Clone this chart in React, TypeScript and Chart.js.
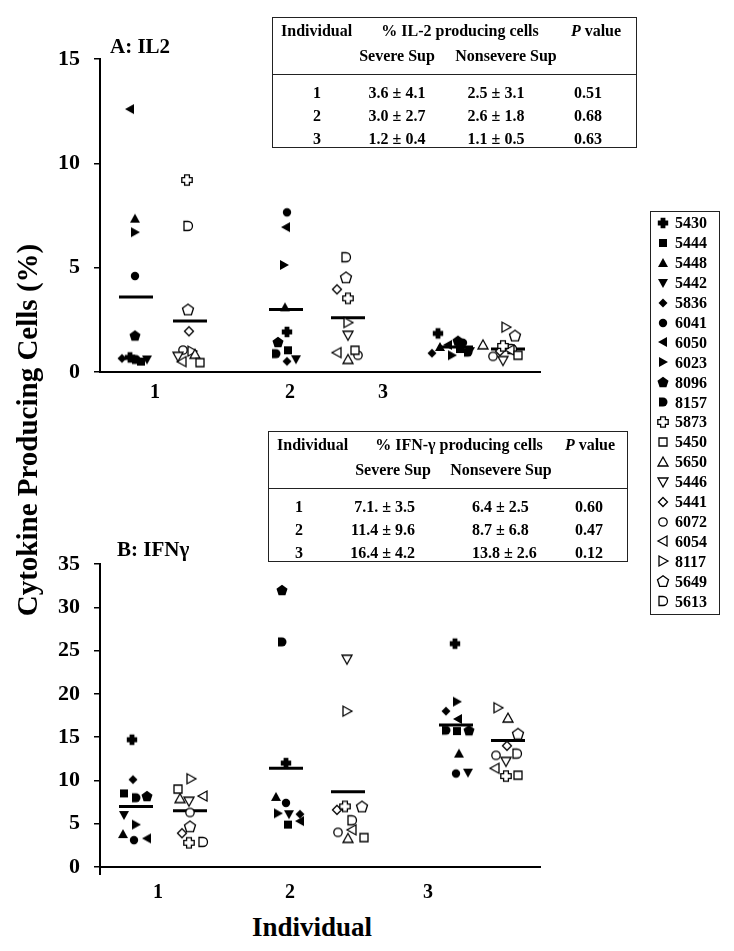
import React, { useEffect, useRef, useMemo } from 'react';
import { Chart, registerables } from 'chart.js';
Chart.register(...registerables);

const FONT = '"Liberation Serif", "Times New Roman", Times, serif';

// ---------------- data ----------------
const INDIVIDUALS = ['5430', '5444', '5448', '5442', '5836', '6041', '6050', '6023', '8096', '8157',
  '5873', '5450', '5650', '5446', '5441', '6072', '6054', '8117', '5649', '5613'];
const SHAPES = ['cross', 'square', 'triUp', 'triDown', 'diamond', 'circle', 'triLeft', 'triRight', 'pentagon', 'D',
  'cross', 'square', 'triUp', 'triDown', 'diamond', 'circle', 'triLeft', 'triRight', 'pentagon', 'D'];
const SEVERE = [true, true, true, true, true, true, true, true, true, true,
  false, false, false, false, false, false, false, false, false, false];
const GROUP_LABELS = ['1', '2', '3'];

// IL-2 producing cells (%), one value per individual, in INDIVIDUALS order
const IL2_IND1 = [0.7, 0.5, 7.35, 0.6, 0.65, 4.6, 12.6, 6.7, 1.75, 0.6,
  9.2, 0.45, 0.85, 0.75, 1.95, 1.05, 0.5, 1.0, 3.0, 7.0];
const IL2_IND2 = [1.92, 1.04, 3.1, 0.61, 0.51, 7.65, 6.94, 5.13, 1.44, 0.88,
  3.53, 1.04, 0.6, 1.76, 3.96, 0.8, 0.93, 2.37, 4.54, 5.5];
const IL2_IND3 = [1.85, 1.1, 1.2, 1.0, 0.9, 1.4, 1.3, 0.8, 1.5, 0.95,
  1.25, 0.8, 1.3, 0.55, 1.0, 0.75, 1.05, 2.15, 1.75, 1.1];
const IL2_MEAN_SEVERE = [3.6, 3.0, 1.2];
const IL2_MEAN_NONSEVERE = [2.45, 2.6, 1.1];

// IFN-gamma producing cells (%)
const IFN_IND1 = [14.7, 8.5, 3.8, 6.0, 10.1, 3.1, 3.3, 4.9, 8.2, 8.0,
  2.8, 9.0, 7.9, 7.6, 3.9, 6.3, 8.2, 10.2, 4.7, 2.9];
const IFN_IND2 = [12.0, 4.9, 8.1, 6.1, 6.1, 7.4, 5.3, 6.2, 32.0, 26.0,
  7.0, 3.4, 3.3, 24.0, 6.6, 4.0, 4.3, 18.0, 7.0, 5.4];
const IFN_IND3 = [25.8, 15.7, 13.1, 10.9, 18.0, 10.8, 17.1, 19.1, 15.8, 15.8,
  10.5, 10.6, 17.2, 12.2, 14.0, 12.9, 11.4, 18.4, 15.4, 13.1];
const IFN_MEAN_SEVERE = [7.0, 11.4, 16.4];
const IFN_MEAN_NONSEVERE = [6.5, 8.7, 14.6];

const IL2_Y_MAX = 15;
const IL2_Y_STEP = 5;
const IFN_Y_MAX = 35;
const IFN_Y_STEP = 5;

// summary tables
const IL2_TABLE_SEVERE = ['3.6 ± 4.1', '3.0 ± 2.7', '1.2 ± 0.4'];
const IL2_TABLE_NONSEVERE = ['2.5 ± 3.1', '2.6 ± 1.8', '1.1 ± 0.5'];
const IL2_TABLE_P = ['0.51', '0.68', '0.63'];
const IFN_TABLE_SEVERE = ['7.1. ± 3.5', '11.4 ± 9.6', '16.4 ± 4.2'];
const IFN_TABLE_NONSEVERE = ['6.4 ± 2.5', '8.7 ± 6.8', '13.8 ± 2.6'];
const IFN_TABLE_P = ['0.60', '0.47', '0.12'];

// ---------------- layout (pixels along the x axis) ----------------
const X_SPAN = 440;
const SEVERE_COL = [36, 186, 356];
const NONSEVERE_COL = [90, 248, 408];
const MEAN_HALF = 17;
const IL2_X_TICKS = [55, 190, 283];
const IFN_X_TICKS = [58, 190, 328];
const IL2_JITTER = [
  [-6, 5, -1, 11, -14, -1, -6, -1, -1, 0, -3, 10, 5, -12, -1, -7, -8, 2, -2, -2],
  [1, 2, -1, 10, 1, 1, 0, -2, -8, -10, 0, 7, 0, 0, -11, 10, -11, 0, -2, -2],
  [-18, 4, -16, 14, -24, 7, -8, -4, 2, 12, -5, 10, -25, -5, -8, -15, 2, -2, 7, 4],
];
const IFN_JITTER = [
  [-4, -12, -13, -12, -3, -2, 11, 0, 11, 0, -1, -12, -10, -1, -8, 0, 13, 1, 0, 13],
  [0, 2, -10, 3, 14, 0, 14, -8, -4, -4, -3, 16, 0, -1, -11, -10, 4, -1, 14, 4],
  [-1, 1, 3, 12, -10, 0, 2, 1, 13, -10, -2, 10, 0, -2, -1, -12, -13, -10, 10, 9],
];

// ---------------- markers ----------------
function drawShape(ctx: CanvasRenderingContext2D, shape: string, filled: boolean, cx: number, cy: number) {
  ctx.save();
  ctx.translate(cx, cy);
  ctx.beginPath();
  switch (shape) {
    case 'cross': {
      const a = 5.2, b = 2.4;
      ctx.moveTo(-b, -a); ctx.lineTo(b, -a); ctx.lineTo(b, -b); ctx.lineTo(a, -b); ctx.lineTo(a, b);
      ctx.lineTo(b, b); ctx.lineTo(b, a); ctx.lineTo(-b, a); ctx.lineTo(-b, b); ctx.lineTo(-a, b);
      ctx.lineTo(-a, -b); ctx.lineTo(-b, -b); ctx.closePath();
      break;
    }
    case 'square': ctx.rect(-4, -4, 8, 8); break;
    case 'triUp': ctx.moveTo(0, -5); ctx.lineTo(5, 4); ctx.lineTo(-5, 4); ctx.closePath(); break;
    case 'triDown': ctx.moveTo(0, 5); ctx.lineTo(5, -4); ctx.lineTo(-5, -4); ctx.closePath(); break;
    case 'triLeft': ctx.moveTo(-5, 0); ctx.lineTo(4, -5); ctx.lineTo(4, 5); ctx.closePath(); break;
    case 'triRight': ctx.moveTo(5, 0); ctx.lineTo(-4, -5); ctx.lineTo(-4, 5); ctx.closePath(); break;
    case 'diamond': ctx.moveTo(0, -4.5); ctx.lineTo(4.5, 0); ctx.lineTo(0, 4.5); ctx.lineTo(-4.5, 0); ctx.closePath(); break;
    case 'circle': ctx.arc(0, 0, 4.2, 0, Math.PI * 2); break;
    case 'pentagon':
      for (let i = 0; i < 5; i++) {
        const t = -Math.PI / 2 + (i * 2 * Math.PI) / 5;
        const x = 5.8 * Math.cos(t), y = 5.8 * Math.sin(t) + 0.6;
        if (i) ctx.lineTo(x, y); else ctx.moveTo(x, y);
      }
      ctx.closePath();
      break;
    case 'D':
      ctx.moveTo(-4, -4.5); ctx.lineTo(0, -4.5); ctx.arc(0, 0, 4.5, -Math.PI / 2, Math.PI / 2); ctx.lineTo(-4, 4.5); ctx.closePath();
      break;
  }
  if (filled) {
    ctx.fillStyle = '#000';
    ctx.fill();
  } else {
    ctx.fillStyle = '#fff';
    ctx.fill();
    ctx.lineWidth = 1.3;
    ctx.strokeStyle = '#000';
    ctx.stroke();
  }
  ctx.restore();
}

function makeMarker(shape: string, filled: boolean) {
  const c = document.createElement('canvas');
  c.width = 14;
  c.height = 14;
  const ctx = c.getContext('2d')!;
  drawShape(ctx, shape, filled, 7, 7);
  return c;
}

// ---------------- chart panel ----------------
type PanelProps = {
  markers: HTMLCanvasElement[];
  top: number; height: number; padTop: number; axisH: number;
  values: number[][]; jitter: number[][];
  meanSev: number[]; meanNon: number[];
  yMax: number; yStep: number; xTicks: number[]; labelPad: number; originTick: boolean;
};

function Panel(p: PanelProps) {
  const ref = useRef<HTMLCanvasElement>(null);
  useEffect(() => {
    const datasets: any[] = [];
    for (let g = 0; g < 3; g++) {
      [[SEVERE_COL[g], p.meanSev[g]], [NONSEVERE_COL[g], p.meanNon[g]]].forEach(([c, m]) => {
        datasets.push({
          type: 'line',
          data: [{ x: c - MEAN_HALF, y: m }, { x: c + MEAN_HALF, y: m }],
          borderColor: '#000', borderWidth: 3, pointRadius: 0, order: 2,
        });
      });
    }
    INDIVIDUALS.forEach((id, i) => {
      datasets.push({
        type: 'scatter',
        label: id,
        data: p.values.map((arr, g) => ({
          x: (SEVERE[i] ? SEVERE_COL[g] : NONSEVERE_COL[g]) + p.jitter[g][i],
          y: arr[i],
        })),
        pointStyle: p.markers[i],
        pointRadius: 5,
        order: 1,
      });
    });
    const tickVals = p.originTick ? [0, ...p.xTicks] : p.xTicks;
    const tickLabels = p.originTick ? ['', ...GROUP_LABELS] : GROUP_LABELS;
    const tl = p.originTick ? 8 : 0;
    const chart = new Chart(ref.current!, {
      type: 'scatter',
      data: { datasets },
      options: {
        animation: false,
        responsive: false,
        events: [],
        plugins: { legend: { display: false }, tooltip: { enabled: false } },
        layout: { padding: { top: p.padTop, left: 0, right: 20, bottom: 0 } },
        scales: {
          x: {
            type: 'linear', min: 0, max: X_SPAN,
            afterBuildTicks: (s: any) => { s.ticks = tickVals.map((v) => ({ value: v })); },
            afterFit: (s: any) => { s.height = p.axisH; },
            ticks: {
              callback: (_v: any, idx: number) => tickLabels[idx],
              font: { family: FONT, size: 20, weight: 'bold' }, color: '#000', padding: p.labelPad - tl,
              maxRotation: 0, autoSkip: false,
            },
            grid: {
              display: p.originTick, drawOnChartArea: false, drawTicks: p.originTick, tickLength: tl,
              color: (c: any) => (c.tick && c.tick.value === 0 ? '#000' : 'rgba(0,0,0,0)'), lineWidth: 2,
            },
            border: { display: true, color: '#000', width: 2 },
          },
          y: {
            min: 0, max: p.yMax,
            afterFit: (s: any) => { s.width = 100; },
            ticks: { stepSize: p.yStep, font: { family: FONT, size: 22, weight: 'bold' }, color: '#000', padding: 14 },
            grid: { display: true, drawOnChartArea: false, drawTicks: true, tickLength: 6, color: '#000', lineWidth: 1.5 },
            border: { display: true, color: '#000', width: 2 },
          },
        },
      } as any,
    });
    return () => chart.destroy();
  }, []);
  return <canvas ref={ref} width={560} height={p.height} style={{ position: 'absolute', left: 0, top: p.top, width: 560, height: p.height }} />;
}

// ---------------- text helpers ----------------
function Txt({ x, y, size = 16, align = 'left', children, italic = false }: any) {
  const w = 400;
  const left = align === 'center' ? x - w / 2 : align === 'right' ? x - w : x;
  return (
    <div style={{
      position: 'absolute', left, top: y - size * 0.6, width: w, textAlign: align,
      font: `${italic ? 'italic ' : ''}bold ${size}px ${FONT}`, lineHeight: `${size * 1.2}px`, whiteSpace: 'nowrap', color: '#000',
    }}>{children}</div>
  );
}

function StatTable({ left, top, width, title, sev, non, pv, cols }: any) {
  const rowY = [top + 76, top + 99, top + 122];
  return (
    <>
      <div style={{ position: 'absolute', left, top, width, height: 131, border: '1.5px solid #222', boxSizing: 'border-box' }} />
      <div style={{ position: 'absolute', left, top: top + 57, width, height: 0, borderTop: '1.5px solid #222' }} />
      <Txt x={cols.ind} y={top + 14}>Individual</Txt>
      <Txt x={cols.title} y={top + 14} align="center">{title}</Txt>
      <Txt x={cols.p} y={top + 14} align="center"><i>P</i> value</Txt>
      <Txt x={cols.sevH} y={top + 39} align="center">Severe Sup</Txt>
      <Txt x={cols.nonH} y={top + 39} align="center">Nonsevere Sup</Txt>
      {GROUP_LABELS.map((g, i) => (
        <React.Fragment key={g}>
          <Txt x={cols.num} y={rowY[i]} align="center">{g}</Txt>
          <Txt x={cols.sev} y={rowY[i]} align={cols.sevAlign}>{sev[i]}</Txt>
          <Txt x={cols.non} y={rowY[i]} align={cols.nonAlign}>{non[i]}</Txt>
          <Txt x={cols.pv} y={rowY[i]} align="center">{pv[i]}</Txt>
        </React.Fragment>
      ))}
    </>
  );
}

export default function App() {
  const markers = useMemo(() => SHAPES.map((s, i) => makeMarker(s, SEVERE[i])), []);
  const legendTop = 223;
  const legendStep = 19.9;
  return (
    <div style={{ position: 'absolute', left: 0, top: 0, width: 734, height: 951, background: '#fff', overflow: 'hidden' }}>
      <Panel markers={markers} top={0} height={410} padTop={59} axisH={38}
        values={[IL2_IND1, IL2_IND2, IL2_IND3]} jitter={IL2_JITTER}
        meanSev={IL2_MEAN_SEVERE} meanNon={IL2_MEAN_NONSEVERE}
        yMax={IL2_Y_MAX} yStep={IL2_Y_STEP} xTicks={IL2_X_TICKS} labelPad={9} originTick={false} />
      <Panel markers={markers} top={480} height={430} padTop={84} axisH={43}
        values={[IFN_IND1, IFN_IND2, IFN_IND3]} jitter={IFN_JITTER}
        meanSev={IFN_MEAN_SEVERE} meanNon={IFN_MEAN_NONSEVERE}
        yMax={IFN_Y_MAX} yStep={IFN_Y_STEP} xTicks={IFN_X_TICKS} labelPad={14} originTick={true} />

      <Txt x={110} y={47} size={21}>A: IL2</Txt>
      <Txt x={117} y={550} size={21}>B: IFNγ</Txt>
      <Txt x={312} y={927} size={27} align="center">Individual</Txt>
      <div style={{
        position: 'absolute', left: 31 - 300, top: 430 - 20, width: 600, height: 40, lineHeight: '40px',
        textAlign: 'center', font: `bold 29px ${FONT}`, transform: 'rotate(-90deg)', whiteSpace: 'nowrap',
      }}>Cytokine Producing Cells (%)</div>

      <StatTable left={272} top={17} width={365} title="% IL-2 producing cells"
        sev={IL2_TABLE_SEVERE} non={IL2_TABLE_NONSEVERE} pv={IL2_TABLE_P}
        cols={{ ind: 281, title: 460, p: 596, sevH: 397, nonH: 506, num: 317, sev: 397, sevAlign: 'center', non: 496, nonAlign: 'center', pv: 588 }} />
      <StatTable left={268} top={431} width={360} title="% IFN-γ producing cells"
        sev={IFN_TABLE_SEVERE} non={IFN_TABLE_NONSEVERE} pv={IFN_TABLE_P}
        cols={{ ind: 277, title: 459, p: 590, sevH: 393, nonH: 501, num: 299, sev: 415, sevAlign: 'right', non: 472, nonAlign: 'left', pv: 589 }} />

      <div style={{ position: 'absolute', left: 650, top: legendTop - 12, width: 70, height: legendStep * 19 + 26, border: '1px solid #222', boxSizing: 'border-box' }} />
      {INDIVIDUALS.map((id, i) => (
        <React.Fragment key={id}>
          <img src={markers[i].toDataURL()} style={{ position: 'absolute', left: 663 - 7, top: legendTop + i * legendStep - 7, width: 14, height: 14 }} />
          <Txt x={675} y={legendTop + i * legendStep} size={16}>{id}</Txt>
        </React.Fragment>
      ))}
    </div>
  );
}
